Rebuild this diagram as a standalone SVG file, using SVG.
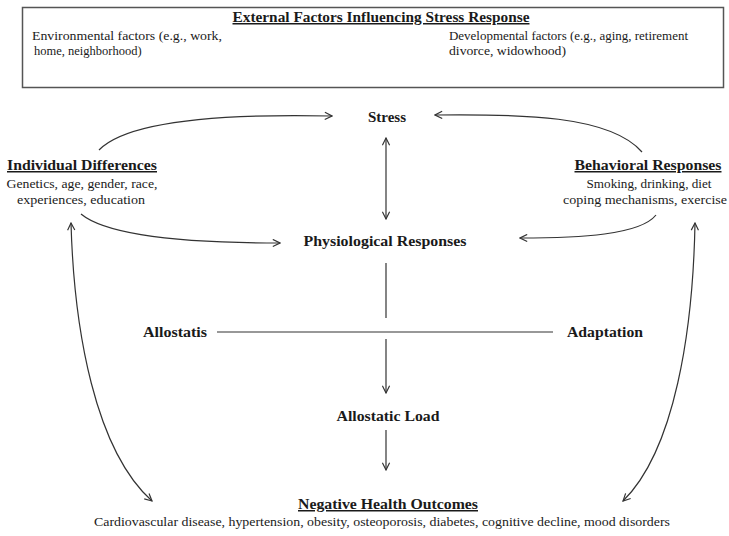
<svg xmlns="http://www.w3.org/2000/svg" width="729" height="536" viewBox="0 0 729 536">
  <style>
    .t { font-family: "Liberation Serif", "Times New Roman", serif; fill: #1a1a1a; }
    .h { font-size: 15px; font-weight: bold; }
    .hu { font-size: 15px; font-weight: bold; text-decoration: underline; }
    .b { font-size: 13px; }
    .s { font-size: 12.5px; }
    .c { fill: none; stroke: #333; stroke-width: 1.2; }
  </style>
  <defs>
    <marker id="arr" viewBox="0 0 10 10" refX="9" refY="5" markerWidth="9" markerHeight="9" markerUnits="userSpaceOnUse" orient="auto-start-reverse">
      <path d="M1,1 L9,5 L1,9" fill="none" stroke="#333" stroke-width="1.3"/>
    </marker>
  </defs>
  <rect width="729" height="536" fill="#fff"/>

  <g id="external-factors">
    <rect x="22.5" y="7.5" width="701" height="80" fill="#fff" stroke="#555" stroke-width="1.5"/>
    <text class="t hu" x="381" y="22" text-anchor="middle" font-size="13.5" textLength="297" lengthAdjust="spacingAndGlyphs">External Factors Influencing Stress Response</text>
    <text class="t s" x="32" y="40" textLength="190" lengthAdjust="spacingAndGlyphs">Environmental factors (e.g., work,</text>
    <text class="t s" x="34" y="55">home, neighborhood)</text>
    <text class="t s" x="449" y="40" textLength="239" lengthAdjust="spacingAndGlyphs">Developmental factors (e.g., aging, retirement</text>
    <text class="t s" x="449" y="55" textLength="117" lengthAdjust="spacingAndGlyphs">divorce, widowhood)</text>
  </g>

  <g id="stress">
    <text class="t h" x="387" y="122" text-anchor="middle">Stress</text>
  </g>

  <g id="individual-differences">
    <text class="t hu" x="82" y="170" text-anchor="middle" textLength="150" lengthAdjust="spacingAndGlyphs">Individual Differences</text>
    <text class="t b" x="82" y="188" text-anchor="middle" textLength="151" lengthAdjust="spacingAndGlyphs">Genetics, age, gender, race,</text>
    <text class="t b" x="81" y="204" text-anchor="middle" textLength="128" lengthAdjust="spacingAndGlyphs">experiences, education</text>
  </g>

  <g id="behavioral-responses">
    <text class="t hu" x="648" y="170" text-anchor="middle" textLength="147" lengthAdjust="spacingAndGlyphs">Behavioral Responses</text>
    <text class="t b" x="649" y="188" text-anchor="middle" textLength="125" lengthAdjust="spacingAndGlyphs">Smoking, drinking, diet</text>
    <text class="t b" x="645" y="204" text-anchor="middle" textLength="164" lengthAdjust="spacingAndGlyphs">coping mechanisms, exercise</text>
  </g>

  <g id="physiological-responses">
    <text class="t h" x="385" y="246" text-anchor="middle" textLength="163" lengthAdjust="spacingAndGlyphs">Physiological Responses</text>
  </g>

  <g id="allostatis">
    <text class="t h" x="175" y="337" text-anchor="middle" textLength="64" lengthAdjust="spacingAndGlyphs">Allostatis</text>
  </g>

  <g id="adaptation">
    <text class="t h" x="605" y="337" text-anchor="middle" textLength="76" lengthAdjust="spacingAndGlyphs">Adaptation</text>
  </g>

  <g id="allostatic-load">
    <text class="t h" x="388" y="421" text-anchor="middle" textLength="103" lengthAdjust="spacingAndGlyphs">Allostatic Load</text>
  </g>

  <g id="negative-health-outcomes">
    <text class="t hu" x="388" y="509" text-anchor="middle" textLength="180" lengthAdjust="spacingAndGlyphs">Negative Health Outcomes</text>
    <text class="t b" x="382" y="526" text-anchor="middle" textLength="576" lengthAdjust="spacingAndGlyphs">Cardiovascular disease, hypertension, obesity, osteoporosis, diabetes, cognitive decline, mood disorders</text>
  </g>

  <g id="connectors">
    <path class="c" d="M99,150 C130,118 240,114 332,116" marker-end="url(#arr)"/>
    <path class="c" d="M81,214 C110,238 200,243 280,243" marker-end="url(#arr)"/>
    <path class="c" d="M642,152 C610,115 520,114 435,115" marker-end="url(#arr)"/>
    <path class="c" d="M656,215 C640,235 580,238 520,238" marker-end="url(#arr)"/>
    <path class="c" d="M386,138 L386,219" marker-start="url(#arr)" marker-end="url(#arr)"/>
    <path class="c" d="M386,263 L386,318"/>
    <path class="c" d="M217,332 L553,332"/>
    <path class="c" d="M386,339 L386,393" marker-end="url(#arr)"/>
    <path class="c" d="M386,430 L386,470" marker-end="url(#arr)"/>
    <path class="c" d="M71,223 C74,330 95,450 152,501" marker-start="url(#arr)" marker-end="url(#arr)"/>
    <path class="c" d="M695,223 C693,330 675,450 623,501" marker-start="url(#arr)" marker-end="url(#arr)"/>
  </g>
</svg>
